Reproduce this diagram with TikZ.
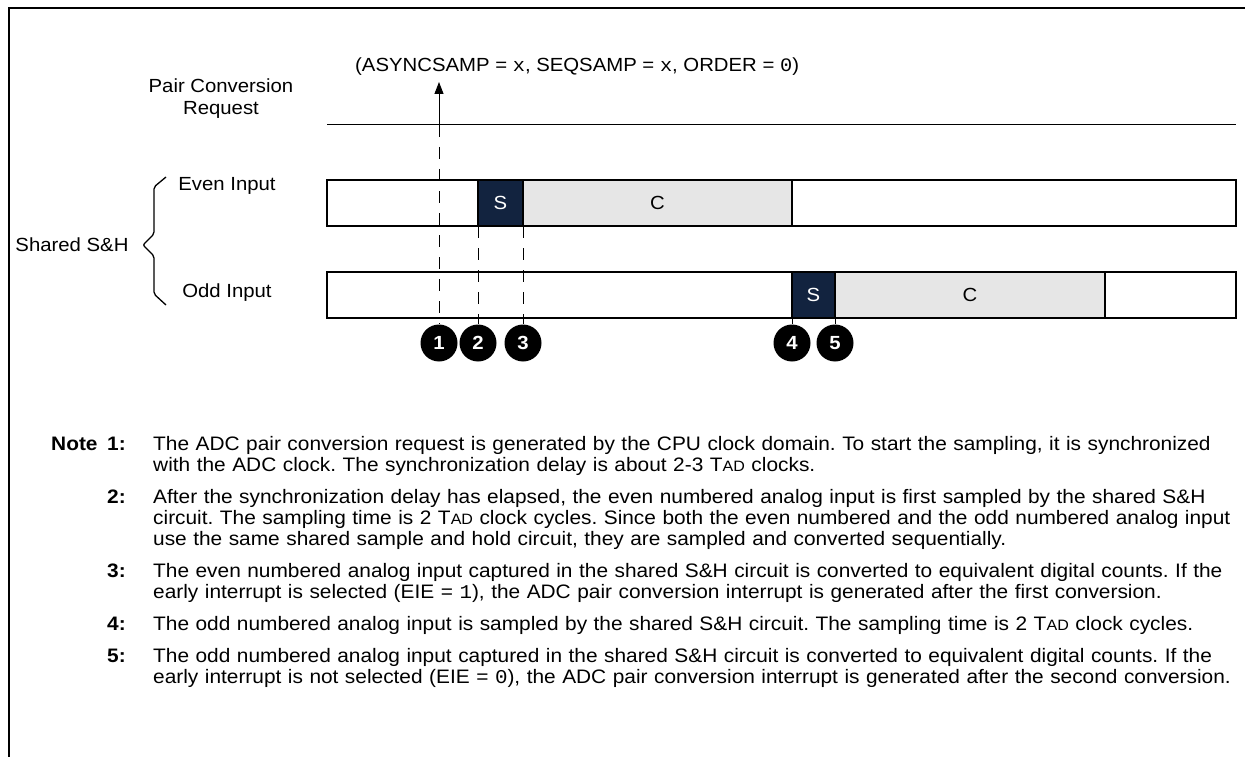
\documentclass[tikz,border=0pt]{standalone}
\usepackage{fontspec}
\setmainfont{Liberation Sans}[FakeStretch=1.07]
\setmonofont{Liberation Mono}[FakeStretch=1.07]
\usetikzlibrary{arrows.meta}
\usetikzlibrary{positioning}

\definecolor{sampblue}{HTML}{12233F}
\definecolor{convgray}{HTML}{E6E6E6}

\frenchspacing
\tolerance=10000
\hyphenpenalty=10000
\exhyphenpenalty=10000

\newcommand{\diagfont}{\fontsize{19}{22}\selectfont}
\newcommand{\notefont}{\fontsize{19.5}{21}\selectfont}
\newcommand{\tadclk}{T{\fontsize{15}{15}\selectfont AD}}

\tikzset{
  lbl/.style={font=\diagfont, inner sep=0pt},
  slot/.style={draw, line width=1.2pt, outer sep=0pt, minimum height=46pt,
    inner sep=0pt, font=\diagfont, anchor=west},
  idle/.style={slot, fill=white},
  samp/.style={slot, fill=sampblue, text=white},
  conv/.style={slot, fill=convgray},
  sync/.style={line width=1pt, dash pattern=on 12pt off 10pt},
  stepnum/.style={circle, fill=black, minimum size=37pt, inner sep=0pt,
    text=white, font=\diagfont\bfseries},
  notenum/.style={font=\notefont\bfseries, inner sep=0pt, anchor=base east},
  notetext/.style={font=\notefont, inner sep=0pt, anchor=base west,
    text width=1079pt},
}

\begin{document}
\begin{tikzpicture}[x=1pt, y=-1pt]
  \useasboundingbox (0,0) rectangle (1245,757);

  % frame
  \draw[line width=2.5pt] (1247,8) -- (9,8) -- (9,759);

  % request line and trigger
  \coordinate (rq0) at (327,125);
  \coordinate (rq1) at (1236,125);
  \coordinate (t1) at (439,125);
  \coordinate (t0) at (439,82);
  \draw[line width=1pt] (rq0) -- (rq1);
  \draw[line width=1pt, -{Triangle[length=12pt,width=9pt]}] (t1) -- (t0);

  \node[lbl, anchor=west] (cfg) at (355,67)
    {(ASYNCSAMP = \texttt{x}, SEQSAMP = \texttt{x}, ORDER = \texttt{0})};
  \node[lbl, align=center] (pcr) at (221,99) {Pair Conversion\\Request};

  % even input
  \node[idle, minimum width=151pt] (evidle) at (327,203) {};
  \node[samp, minimum width=45pt, right=0pt of evidle] (evs) {S};
  \node[conv, minimum width=269pt, right=0pt of evs] (evc) {C};
  \node[idle, minimum width=444pt, right=0pt of evc] (evend) {};

  % odd input
  \node[idle, minimum width=465pt] (odidle) at (327,295) {};
  \node[samp, minimum width=43pt, right=0pt of odidle] (ods) {S};
  \node[conv, minimum width=270pt, right=0pt of ods] (odc) {C};
  \node[idle, minimum width=131pt, right=0pt of odc] (odend) {};

  \node[lbl] (even) at (227,186) {Even Input};
  \node[lbl] (odd) at (227,293) {Odd Input};
  \node[lbl] (shared) at (72,245) {Shared S\&H};
  \draw[line width=1.3pt, rounded corners=2pt] (166,177) -- (154,187)
    -- (154,234) -- (143,245) -- (154,256) -- (154,294) -- (166,305);

  % event markers
  \node[stepnum] (n1) at (439,343) {1};
  \node[stepnum] (n2) at (evs.south west |- n1) {2};
  \node[stepnum] (n3) at (evc.south west |- n1) {3};
  \node[stepnum] (n4) at (ods.south west |- n1) {4};
  \node[stepnum] (n5) at (odc.south west |- n1) {5};

  \draw[sync] (t1) -- (n1);
  \draw[sync] (evs.south west) -- (n2);
  \draw[sync] (evc.south west) -- (n3);
  \draw[sync] (ods.south west) -- (n4);
  \draw[sync] (odc.south west) -- (n5);

  % notes
  \node[font=\notefont\bfseries, inner sep=0pt, anchor=base west] (note) at (51,450) {Note};
  \node[notenum] (k1) at (126,450) {1:};
  \node[notetext] (p1) at (153,450) {The ADC pair conversion request is generated by the CPU clock domain. To start the sampling, it is synchronized\linebreak
    with the ADC clock. The synchronization delay is about 2-3 \tadclk{} clocks.};
  \node[notenum] (k2) at (126,503) {2:};
  \node[notetext] (p2) at (153,503) {After the synchronization delay has elapsed, the even numbered analog input is first sampled by the shared S\&H\linebreak
    circuit. The sampling time is 2 \tadclk{} clock cycles. Since both the even numbered and the odd numbered analog input\linebreak
    use the same shared sample and hold circuit, they are sampled and converted sequentially.};
  \node[notenum] (k3) at (126,577) {3:};
  \node[notetext] (p3) at (153,577) {The even numbered analog input captured in the shared S\&H circuit is converted to equivalent digital counts. If the\linebreak
    early interrupt is selected (EIE = \texttt{1}), the ADC pair conversion interrupt is generated after the first conversion.};
  \node[notenum] (k4) at (126,630) {4:};
  \node[notetext] (p4) at (153,630) {The odd numbered analog input is sampled by the shared S\&H circuit. The sampling time is 2 \tadclk{} clock cycles.};
  \node[notenum] (k5) at (126,662) {5:};
  \node[notetext] (p5) at (153,662) {The odd numbered analog input captured in the shared S\&H circuit is converted to equivalent digital counts. If the\linebreak
    early interrupt is not selected (EIE = \texttt{0}), the ADC pair conversion interrupt is generated after the second conversion.};
\end{tikzpicture}
\end{document}
